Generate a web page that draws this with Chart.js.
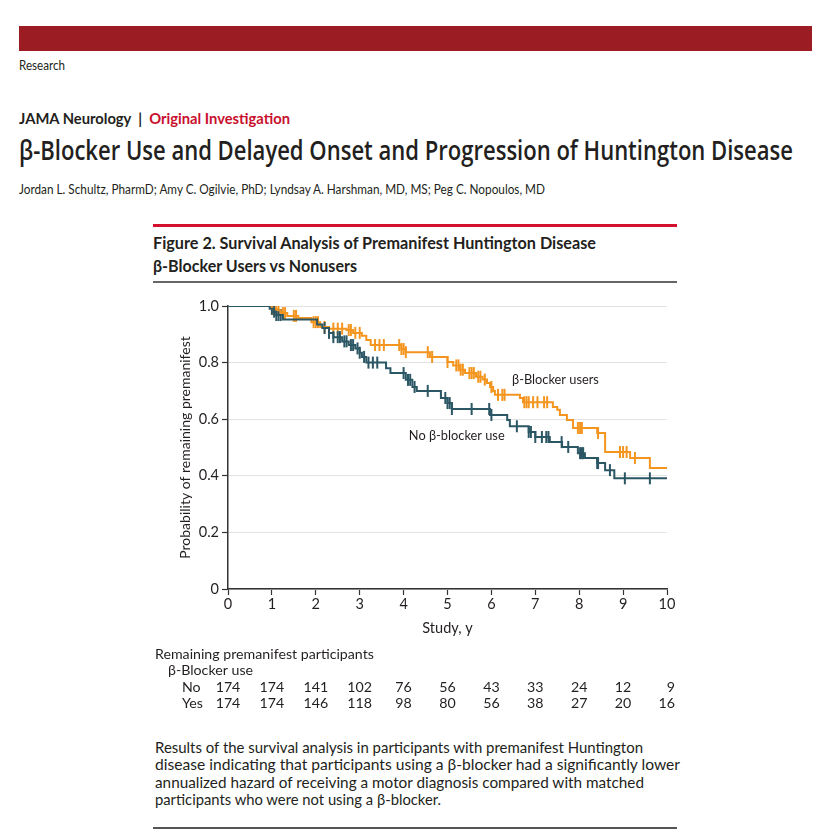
<!DOCTYPE html>
<html>
<head>
<meta charset="utf-8">
<script src="https://cdn.jsdelivr.net/npm/chart.js@4.4.1/dist/chart.umd.min.js"></script>
<style>
  body { margin: 0; background: #fff; font-family: Lato, "Open Sans", sans-serif; color: #231f20; }
  .page { position: relative; width: 830px; height: 834px; overflow: hidden; }
  .t { position: absolute; white-space: nowrap; line-height: 1; transform-origin: 0 50%; }
  .bar { position: absolute; }
  #wrap { position: absolute; left: 140px; top: 290px; width: 550px; height: 430px; }
</style>
</head>
<body>
<div class="page">
  <div class="bar" style="left:19px;top:26px;width:793px;height:25px;background:#9b1c22"></div>
  <div class="t" data-w="46" style="left:19px;top:60px;font-size:12.5px">Research</div>
  <div class="t" data-w="271" style="left:19px;top:111px;font-size:15.5px;font-weight:700">JAMA Neurology&nbsp; |&nbsp; <span style="color:#c8102e">Original Investigation</span></div>
  <div class="t" data-w="774" style="left:19px;top:136px;font-size:27px;font-weight:600;font-family:'Open Sans',sans-serif">β-Blocker Use and Delayed Onset and Progression of Huntington Disease</div>
  <div class="t" data-w="526" style="left:19px;top:183px;font-size:13.5px">Jordan L. Schultz, PharmD; Amy C. Ogilvie, PhD; Lyndsay A. Harshman, MD, MS; Peg C. Nopoulos, MD</div>

  <div class="bar" style="left:153px;top:224px;width:524px;height:3px;background:#d3112e"></div>
  <div class="t" data-w="443" style="left:153px;top:234px;font-size:17.5px;font-weight:700">Figure 2. Survival Analysis of Premanifest Huntington Disease</div>
  <div class="t" data-w="204" style="left:153px;top:257px;font-size:17.5px;font-weight:700">β-Blocker Users vs Nonusers</div>
  <div class="bar" style="left:153px;top:281px;width:524px;height:2px;background:#666"></div>

  <div id="wrap"><canvas id="km" width="550" height="430"></canvas></div>

  <div class="t" data-w="488" style="left:155px;top:739px;font-size:16px">Results of the survival analysis in participants with premanifest Huntington</div>
  <div class="t" data-w="525" style="left:155px;top:756px;font-size:16px">disease indicating that participants using a β-blocker had a significantly lower</div>
  <div class="t" data-w="489" style="left:155px;top:774px;font-size:16px">annualized hazard of receiving a motor diagnosis compared with matched</div>
  <div class="t" data-w="286" style="left:155px;top:791px;font-size:16px">participants who were not using a β-blocker.</div>
  <div class="bar" style="left:153px;top:827px;width:524px;height:2px;background:#555"></div>
</div>

<script>
// squeeze header/caption text to the widths seen in the figure
document.querySelectorAll('.t[data-w]').forEach(function (el) {
  var w = el.getBoundingClientRect().width;
  el.style.transform = 'scaleX(' + (parseFloat(el.dataset.w) / w) + ')';
});

var years = [0, 1, 2, 3, 4, 5, 6, 7, 8, 9, 10];
var atRiskNo = [174, 174, 141, 102, 76, 56, 43, 33, 24, 12, 9];
var atRiskYes = [174, 174, 146, 118, 98, 80, 56, 38, 27, 20, 16];

// β-blocker users: event times (y) and survival after each drop
var userTimes = [0, 1.0, 1.1, 1.2, 1.35, 1.6, 1.9, 2.1, 2.3, 2.7, 2.85, 3.05, 3.15, 3.25, 3.95, 4.05, 4.6, 5.0, 5.13, 5.28, 5.4, 5.65, 5.8, 5.9, 5.97, 6.04, 6.08, 6.65, 6.72, 7.4, 7.5, 7.56, 7.72, 7.86, 8.41, 8.59, 9.16, 9.61, 10];
var userSurv = [1.0, 0.99, 0.985, 0.975, 0.965, 0.958, 0.943, 0.926, 0.92, 0.915, 0.905, 0.895, 0.88, 0.862, 0.848, 0.837, 0.82, 0.802, 0.79, 0.775, 0.763, 0.75, 0.74, 0.728, 0.714, 0.70, 0.686, 0.675, 0.66, 0.643, 0.633, 0.615, 0.597, 0.569, 0.551, 0.484, 0.463, 0.428, 0.428];
var userCensor = [1.0, 1.05, 1.1, 1.15, 1.25, 1.3, 1.5, 1.55, 1.95, 2.0, 2.05, 2.2, 2.4, 2.5, 2.6, 2.75, 2.8, 2.9, 3.0, 3.35, 3.45, 3.55, 3.9, 3.95, 4.0, 4.05, 4.55, 4.65, 5.0, 5.2, 5.25, 5.3, 5.35, 5.5, 5.55, 5.6, 5.7, 5.75, 5.85, 6.0, 6.15, 6.25, 6.3, 6.75, 6.8, 6.85, 6.95, 7.05, 7.2, 7.27, 7.97, 8.02, 8.06, 8.43, 8.93, 9.0, 9.08, 9.27];

// no β-blocker use
var noneTimes = [0, 0.95, 1.05, 1.1, 1.25, 2.03, 2.15, 2.3, 2.4, 2.6, 2.75, 2.9, 3.0, 3.05, 3.15, 3.6, 3.7, 4.05, 4.2, 4.3, 4.85, 5.0, 5.1, 5.97, 6.36, 6.42, 6.85, 7.0, 7.33, 7.61, 7.97, 8.13, 8.41, 8.59, 8.8, 10];
var noneSurv = [1.0, 0.99, 0.98, 0.968, 0.952, 0.935, 0.922, 0.905, 0.89, 0.875, 0.862, 0.85, 0.835, 0.82, 0.80, 0.78, 0.763, 0.739, 0.714, 0.70, 0.675, 0.657, 0.636, 0.615, 0.597, 0.575, 0.555, 0.537, 0.519, 0.502, 0.48, 0.463, 0.445, 0.42, 0.391, 0.391];
var noneCensor = [1.0, 1.05, 1.1, 1.15, 1.2, 2.2, 2.3, 2.4, 2.5, 2.55, 2.65, 2.7, 2.8, 2.85, 2.95, 3.0, 3.1, 3.2, 3.3, 3.4, 4.0, 4.1, 4.15, 4.25, 4.55, 4.95, 5.0, 5.05, 5.1, 5.55, 5.95, 6.0, 6.58, 6.85, 6.9, 7.0, 7.15, 7.25, 7.3, 7.6, 7.75, 8.02, 8.06, 8.09, 8.41, 8.43, 8.7, 9.04, 9.61];

var orange = '#f4951f';
var teal = '#2b5664';

function survAt(times, surv, t) {
  var v = surv[0];
  for (var i = 0; i < times.length; i++) {
    if (times[i] <= t) v = surv[i];
  }
  return v;
}

function steps(times, surv) {
  return times.map(function (t, i) { return {x: t, y: surv[i]}; });
}

function marks(cens, times, surv) {
  return cens.map(function (t) { return {x: t, y: survAt(times, surv, t)}; });
}

var tablePlugin = {
  id: 'extras',
  afterDraw: function (chart) {
    var ctx = chart.ctx;
    var xs = chart.scales.x;
    var ys = chart.scales.y;
    ctx.save();
    ctx.fillStyle = '#231f20';
    ctx.textBaseline = 'middle';

    // curve labels
    ctx.font = '12.8px Lato';
    ctx.textAlign = 'left';
    ctx.fillText('β-Blocker users', xs.getPixelForValue(6.47), ys.getPixelForValue(0.738));
    ctx.fillText('No β-blocker use', xs.getPixelForValue(4.12), ys.getPixelForValue(0.54));

    // number at risk
    ctx.font = '14.2px Lato';
    ctx.fillText('Remaining premanifest participants', 15, 364);
    ctx.fillText('β-Blocker use', 28, 380);
    ctx.fillText('No', 42, 397);
    ctx.fillText('Yes', 42, 413);
    for (var i = 0; i < years.length; i++) {
      var px = xs.getPixelForValue(years[i]);
      if (i === years.length - 1) {
        ctx.textAlign = 'right';
        px += 8;
      } else {
        ctx.textAlign = 'center';
      }
      ctx.fillText(String(atRiskNo[i]), px, 397);
      ctx.fillText(String(atRiskYes[i]), px, 413);
    }
    ctx.restore();
  }
};

new Chart('km', {
  type: 'line',
  data: {
    datasets: [
      {
        label: 'No β-blocker use',
        data: steps(noneTimes, noneSurv),
        borderColor: teal,
        borderWidth: 2,
        stepped: true,
        pointRadius: 0,
        fill: false
      },
      {
        label: 'β-Blocker users',
        data: steps(userTimes, userSurv),
        borderColor: orange,
        borderWidth: 2,
        stepped: true,
        pointRadius: 0,
        fill: false
      },
      {
        label: 'censored none',
        data: marks(noneCensor, noneTimes, noneSurv),
        showLine: false,
        pointStyle: 'line',
        rotation: 90,
        pointRadius: 6,
        pointBorderWidth: 2,
        pointBorderColor: teal,
        pointBackgroundColor: teal
      },
      {
        label: 'censored users',
        data: marks(userCensor, userTimes, userSurv),
        showLine: false,
        pointStyle: 'line',
        rotation: 90,
        pointRadius: 6,
        pointBorderWidth: 2,
        pointBorderColor: orange,
        pointBackgroundColor: orange
      }
    ]
  },
  options: {
    responsive: false,
    animation: false,
    devicePixelRatio: 1,
    layout: {padding: {left: 0, top: 16, right: 23, bottom: 76}},
    plugins: {
      legend: {display: false},
      tooltip: {enabled: false}
    },
    scales: {
      x: {
        type: 'linear',
        min: 0,
        max: 10,
        afterFit: function (s) { s.height = 55; },
        ticks: {stepSize: 1, color: '#231f20', font: {family: 'Lato', size: 14.5}, padding: 1, maxRotation: 0},
        grid: {drawOnChartArea: false, drawTicks: true, tickLength: 6, tickColor: '#333', tickWidth: 1.2},
        border: {color: '#333', width: 1.5},
        title: {display: true, text: 'Study, y', color: '#231f20', font: {family: 'Lato', size: 14.5}, padding: {top: 4, bottom: 7}}
      },
      y: {
        min: 0,
        max: 1,
        afterFit: function (s) { s.width = 88; },
        ticks: {
          stepSize: 0.2,
          color: '#231f20',
          font: {family: 'Lato', size: 14.5},
          padding: 3,
          callback: function (v) { return v === 0 ? '0' : v.toFixed(1); }
        },
        grid: {color: '#e2e2e2', lineWidth: 1, tickLength: 6, tickColor: '#333', tickWidth: 1.2},
        border: {color: '#333', width: 1.5},
        title: {display: true, text: 'Probability of remaining premanifest', color: '#231f20', font: {family: 'Lato', size: 14}, padding: {top: 37, bottom: 0}}
      }
    }
  },
  plugins: [tablePlugin]
});
</script>
</body>
</html>
